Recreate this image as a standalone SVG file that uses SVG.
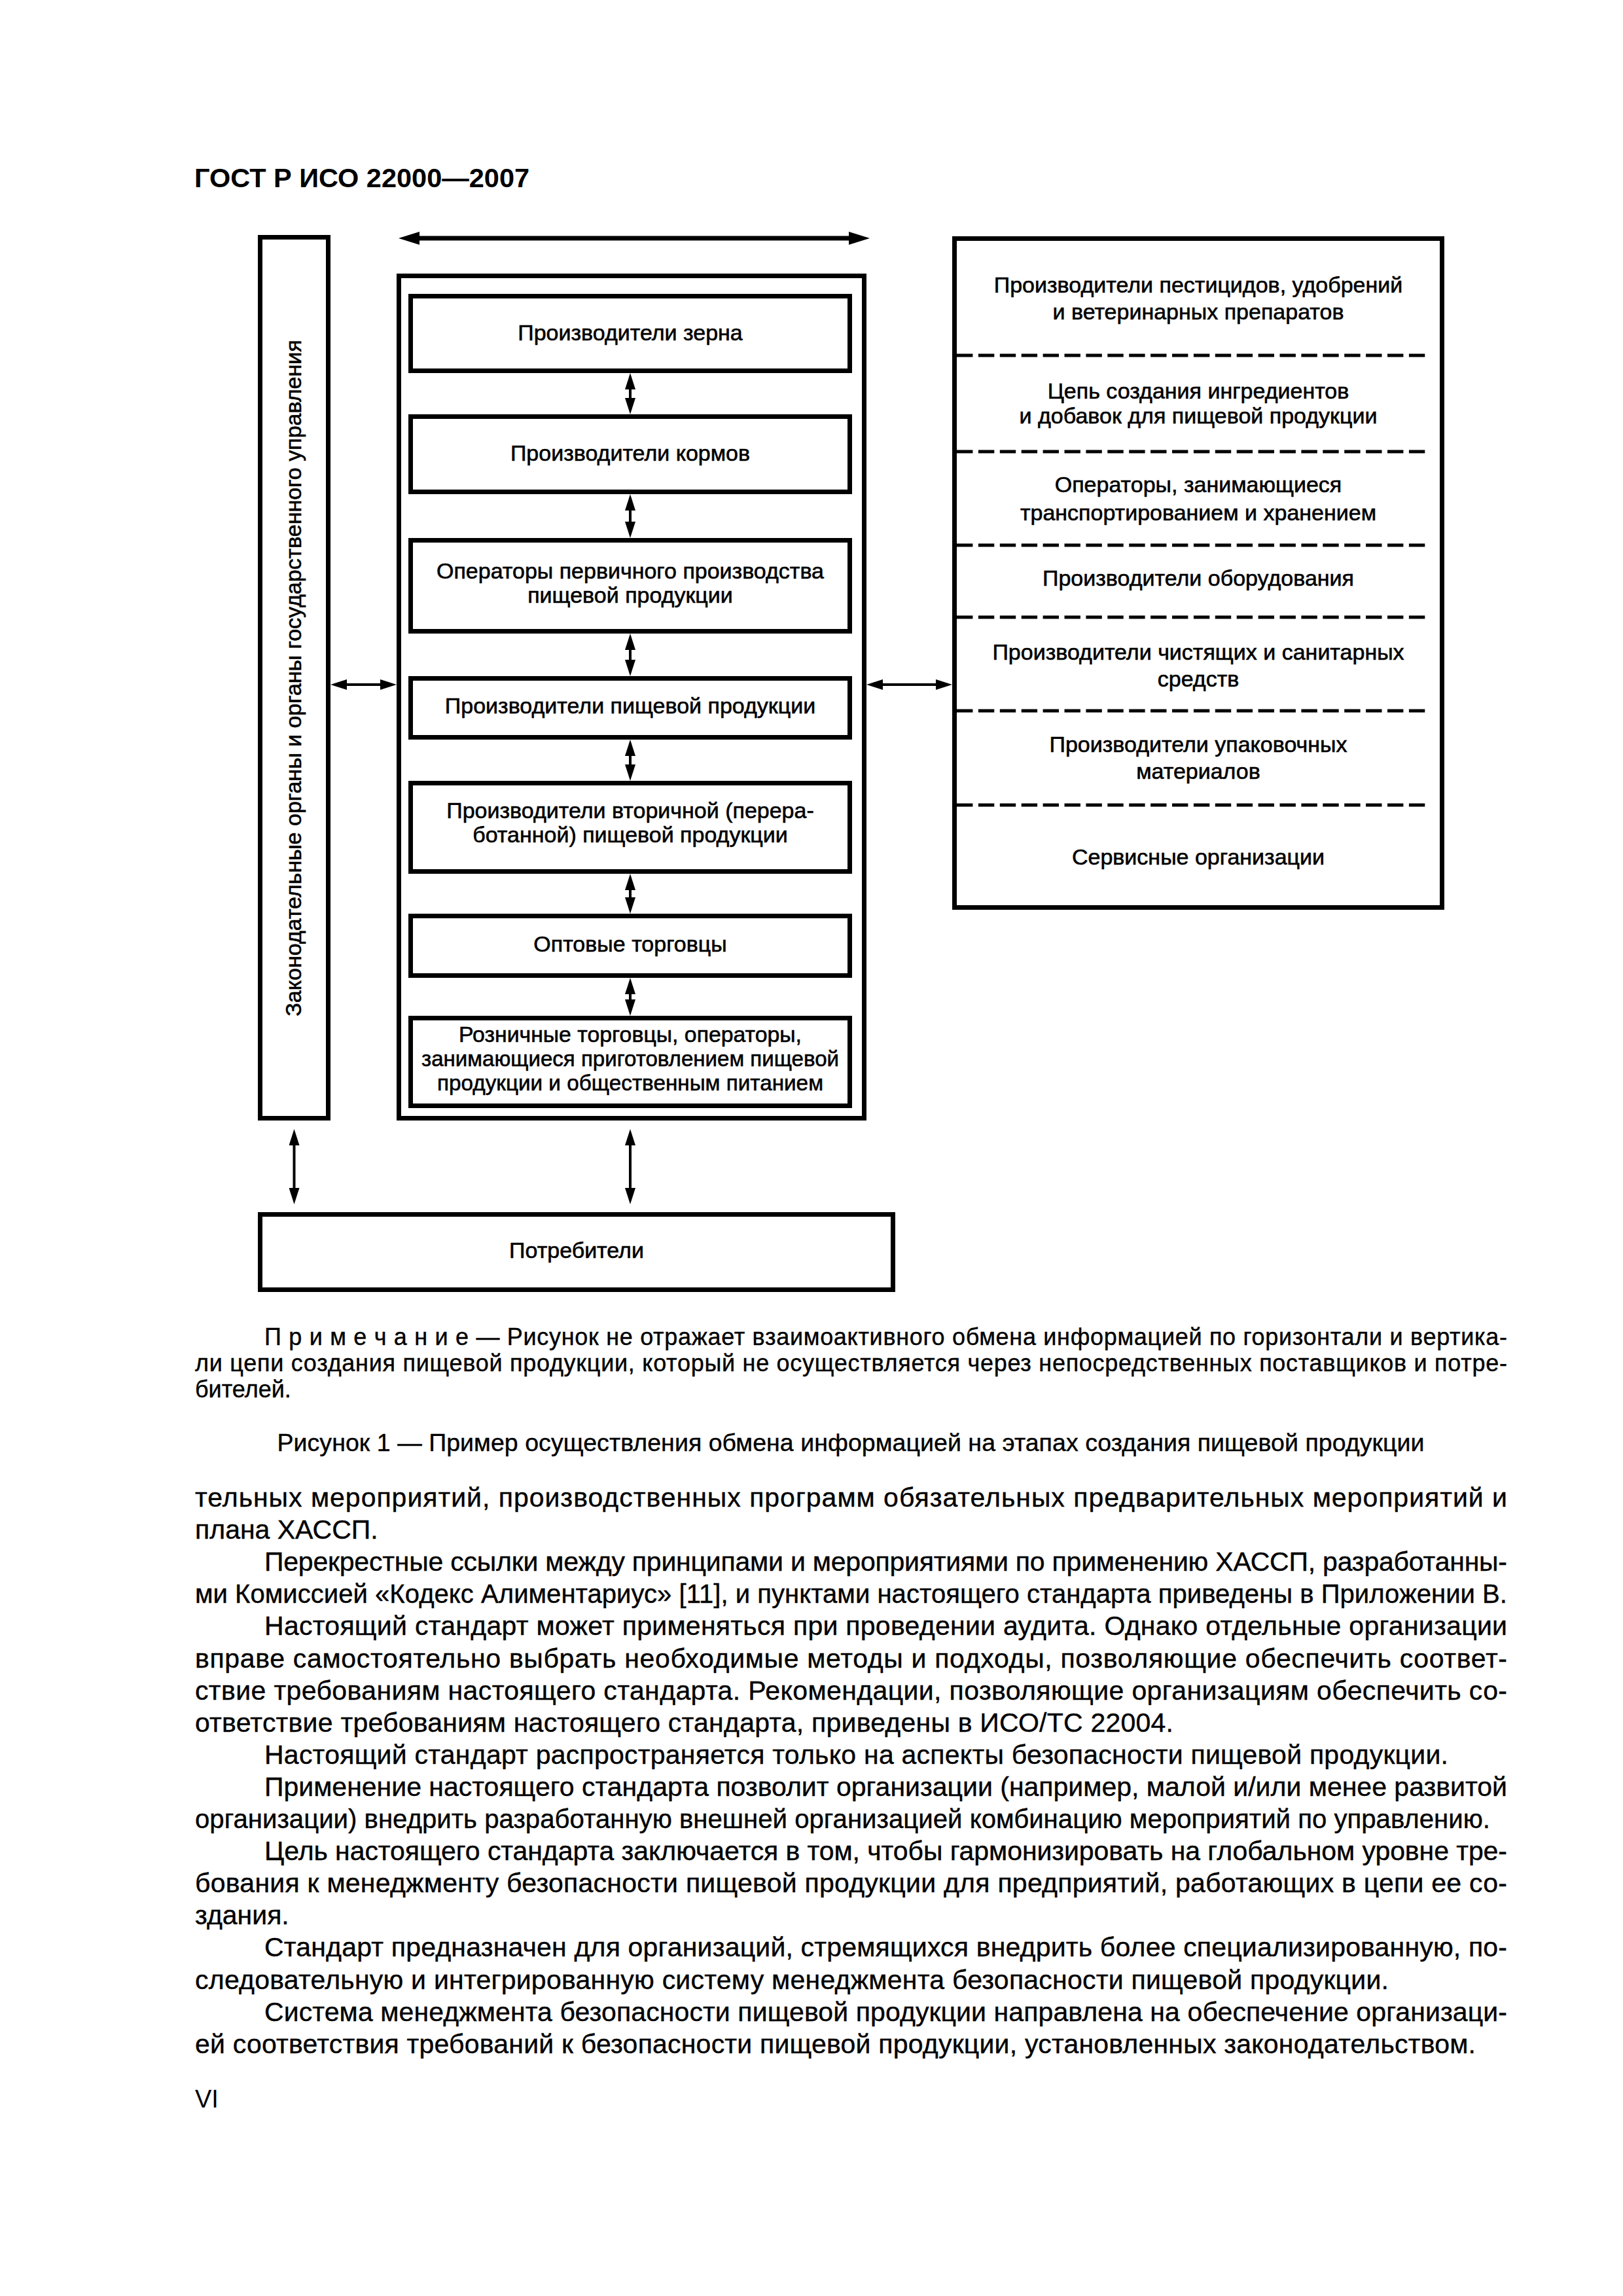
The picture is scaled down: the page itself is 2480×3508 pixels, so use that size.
<svg xmlns="http://www.w3.org/2000/svg" width="2480" height="3508" viewBox="0 0 2480 3508">
<style>
.box{fill:none;stroke:#000;stroke-width:7}
.t{font-family:"Liberation Sans",Arial,sans-serif;font-size:34px;text-anchor:middle;fill:#000;stroke:#000;stroke-width:0.6}
.dash{stroke:#000;stroke-width:5;stroke-dasharray:24.4 8.5}
.c{stroke:#000;stroke-width:4;fill:none;marker-start:url(#ah);marker-end:url(#ah)}
.cb{stroke:#000;stroke-width:7;fill:none;marker-start:url(#ahb);marker-end:url(#ahb)}
.b{font-family:"Liberation Sans",Arial,sans-serif;font-size:41px;fill:#000;stroke:#000;stroke-width:0.4}
.n{font-family:"Liberation Sans",Arial,sans-serif;font-size:36px;fill:#000;stroke:#000;stroke-width:0.4}
</style>
<defs>
<marker id="ah" viewBox="0 -8 25 16" refX="0" refY="0" markerWidth="25" markerHeight="16" markerUnits="userSpaceOnUse" orient="auto-start-reverse"><path d="M0,-8 L25,0 L0,8 z" fill="#000"/></marker>
<marker id="ahb" viewBox="0 -10 32 20" refX="0" refY="0" markerWidth="32" markerHeight="20" markerUnits="userSpaceOnUse" orient="auto-start-reverse"><path d="M0,-10 L32,0 L0,10 z" fill="#000"/></marker>
</defs>
<rect width="2480" height="3508" fill="#fff"/>
<text x="297" y="286" font-family="Liberation Sans,Arial,sans-serif" font-weight="bold" font-size="41.5">ГОСТ Р ИСО 22000—2007</text>

<g id="legislative">
<rect class="box" x="397.5" y="362.5" width="104" height="1346"/>
<text class="t" transform="translate(460,1036) rotate(-90)">Законодательные органы и органы государственного управления</text>
</g>
<g id="chain">
<rect class="box" x="609.5" y="421.5" width="711" height="1287"/>
</g>
<g id="grain"><rect class="box" x="627.5" y="452.5" width="671" height="114"/><text class="t" x="963" y="520">Производители зерна</text></g>
<g id="feed"><rect class="box" x="627.5" y="636.5" width="671" height="115"/><text class="t" x="963" y="704">Производители кормов</text></g>
<g id="primary"><rect class="box" x="627.5" y="825.5" width="671" height="139"/><text class="t" x="963" y="884">Операторы первичного производства</text><text class="t" x="963" y="921">пищевой продукции</text></g>
<g id="food"><rect class="box" x="627.5" y="1036.5" width="671" height="90"/><text class="t" x="963" y="1090">Производители пищевой продукции</text></g>
<g id="secondary"><rect class="box" x="627.5" y="1196.5" width="671" height="135"/><text class="t" x="963" y="1250">Производители вторичной (перера-</text><text class="t" x="963" y="1287">ботанной) пищевой продукции</text></g>
<g id="wholesale"><rect class="box" x="627.5" y="1399.5" width="671" height="91"/><text class="t" x="963" y="1454">Оптовые торговцы</text></g>
<g id="retail"><rect class="box" x="627.5" y="1555.5" width="671" height="134"/><text class="t" x="963" y="1592" textLength="524" lengthAdjust="spacingAndGlyphs">Розничные торговцы, операторы,</text><text class="t" x="963" y="1629" textLength="638" lengthAdjust="spacingAndGlyphs">занимающиеся приготовлением пищевой</text><text class="t" x="963" y="1666" textLength="590" lengthAdjust="spacingAndGlyphs">продукции и общественным питанием</text></g>

<g id="suppliers">
<rect class="box" x="1458.5" y="364.5" width="745" height="1022"/>
<line class="dash" x1="1462" y1="543" x2="2178" y2="543"/>
<line class="dash" x1="1462" y1="690" x2="2178" y2="690"/>
<line class="dash" x1="1462" y1="833" x2="2178" y2="833"/>
<line class="dash" x1="1462" y1="943" x2="2178" y2="943"/>
<line class="dash" x1="1462" y1="1086" x2="2178" y2="1086"/>
<line class="dash" x1="1462" y1="1230" x2="2178" y2="1230"/>
<text class="t" x="1831" y="447">Производители пестицидов, удобрений</text>
<text class="t" x="1831" y="488">и ветеринарных препаратов</text>
<text class="t" x="1831" y="609">Цепь создания ингредиентов</text>
<text class="t" x="1831" y="647">и добавок для пищевой продукции</text>
<text class="t" x="1831" y="752">Операторы, занимающиеся</text>
<text class="t" x="1831" y="795">транспортированием и хранением</text>
<text class="t" x="1831" y="895">Производители оборудования</text>
<text class="t" x="1831" y="1008">Производители чистящих и санитарных</text>
<text class="t" x="1831" y="1049">средств</text>
<text class="t" x="1831" y="1149">Производители упаковочных</text>
<text class="t" x="1831" y="1190">материалов</text>
<text class="t" x="1831" y="1321">Сервисные организации</text>
</g>

<g id="consumers"><rect class="box" x="397.5" y="1855.5" width="967" height="115"/><text class="t" x="881" y="1922">Потребители</text></g>

<g id="connectors">
<line class="cb" x1="641" y1="364" x2="1297" y2="364"/>
<line class="c" x1="963" y1="595" x2="963" y2="608"/>
<line class="c" x1="963" y1="780" x2="963" y2="797"/>
<line class="c" x1="963" y1="993" x2="963" y2="1008"/>
<line class="c" x1="963" y1="1155" x2="963" y2="1168"/>
<line class="c" x1="963" y1="1360" x2="963" y2="1371"/>
<line class="c" x1="963" y1="1519" x2="963" y2="1527"/>
<line class="c" x1="530" y1="1046" x2="581" y2="1046"/>
<line class="c" x1="1349" y1="1046" x2="1430" y2="1046"/>
<line class="c" x1="449.5" y1="1750" x2="449.5" y2="1815"/>
<line class="c" x1="963" y1="1750" x2="963" y2="1815"/>
</g>

<g id="note">
<text class="n" x="404" y="2055" textLength="1899" lengthAdjust="spacing">П р и м е ч а н и е — Рисунок не отражает взаимоактивного обмена информацией по горизонтали и вертика-</text>
<text class="n" x="298" y="2095" textLength="2005" lengthAdjust="spacing">ли цепи создания пищевой продукции, который не осуществляется через непосредственных поставщиков и потре-</text>
<text class="n" x="298" y="2135">бителей.</text>
<text x="1300" y="2217" font-family="Liberation Sans,Arial,sans-serif" font-size="37.5" text-anchor="middle" textLength="1753" lengthAdjust="spacing" stroke="#000" stroke-width="0.4">Рисунок 1 — Пример осуществления обмена информацией на этапах создания пищевой продукции</text>
</g>

<g id="body">
<text class="b" x="298" y="2302" textLength="2005" lengthAdjust="spacing">тельных мероприятий, производственных программ обязательных предварительных мероприятий и</text>
<text class="b" x="298" y="2351">плана ХАССП.</text>
<text class="b" x="404" y="2400" textLength="1899" lengthAdjust="spacing">Перекрестные ссылки между принципами и мероприятиями по применению ХАССП, разработанны-</text>
<text class="b" x="298" y="2449" textLength="2005" lengthAdjust="spacingAndGlyphs">ми Комиссией «Кодекс Алиментариус» [11], и пунктами настоящего стандарта приведены в Приложении В.</text>
<text class="b" x="404" y="2498" textLength="1899" lengthAdjust="spacing">Настоящий стандарт может применяться при проведении аудита. Однако отдельные организации</text>
<text class="b" x="298" y="2548" textLength="2005" lengthAdjust="spacing">вправе самостоятельно выбрать необходимые методы и подходы, позволяющие обеспечить соответ-</text>
<text class="b" x="298" y="2597" textLength="2005" lengthAdjust="spacing">ствие требованиям настоящего стандарта. Рекомендации, позволяющие организациям обеспечить со-</text>
<text class="b" x="298" y="2646" textLength="1495" lengthAdjust="spacing">ответствие требованиям настоящего стандарта, приведены в ИСО/ТС 22004.</text>
<text class="b" x="404" y="2695" textLength="1809" lengthAdjust="spacing">Настоящий стандарт распространяется только на аспекты безопасности пищевой продукции.</text>
<text class="b" x="404" y="2744" textLength="1899" lengthAdjust="spacing">Применение настоящего стандарта позволит организации (например, малой и/или менее развитой</text>
<text class="b" x="298" y="2793" textLength="1979" lengthAdjust="spacingAndGlyphs">организации) внедрить разработанную внешней организацией комбинацию мероприятий по управлению.</text>
<text class="b" x="404" y="2842" textLength="1899" lengthAdjust="spacing">Цель настоящего стандарта заключается в том, чтобы гармонизировать на глобальном уровне тре-</text>
<text class="b" x="298" y="2891" textLength="2005" lengthAdjust="spacing">бования к менеджменту безопасности пищевой продукции для предприятий, работающих в цепи ее со-</text>
<text class="b" x="298" y="2940">здания.</text>
<text class="b" x="404" y="2989" textLength="1899" lengthAdjust="spacing">Стандарт предназначен для организаций, стремящихся внедрить более специализированную, по-</text>
<text class="b" x="298" y="3039" textLength="1824" lengthAdjust="spacing">следовательную и интегрированную систему менеджмента безопасности пищевой продукции.</text>
<text class="b" x="404" y="3088" textLength="1899" lengthAdjust="spacing">Система менеджмента безопасности пищевой продукции направлена на обеспечение организаци-</text>
<text class="b" x="298" y="3137" textLength="1957" lengthAdjust="spacing">ей соответствия требований к безопасности пищевой продукции, установленных законодательством.</text>
<text x="298" y="3220" font-family="Liberation Sans,Arial,sans-serif" font-size="38">VI</text>
</g>
</svg>
